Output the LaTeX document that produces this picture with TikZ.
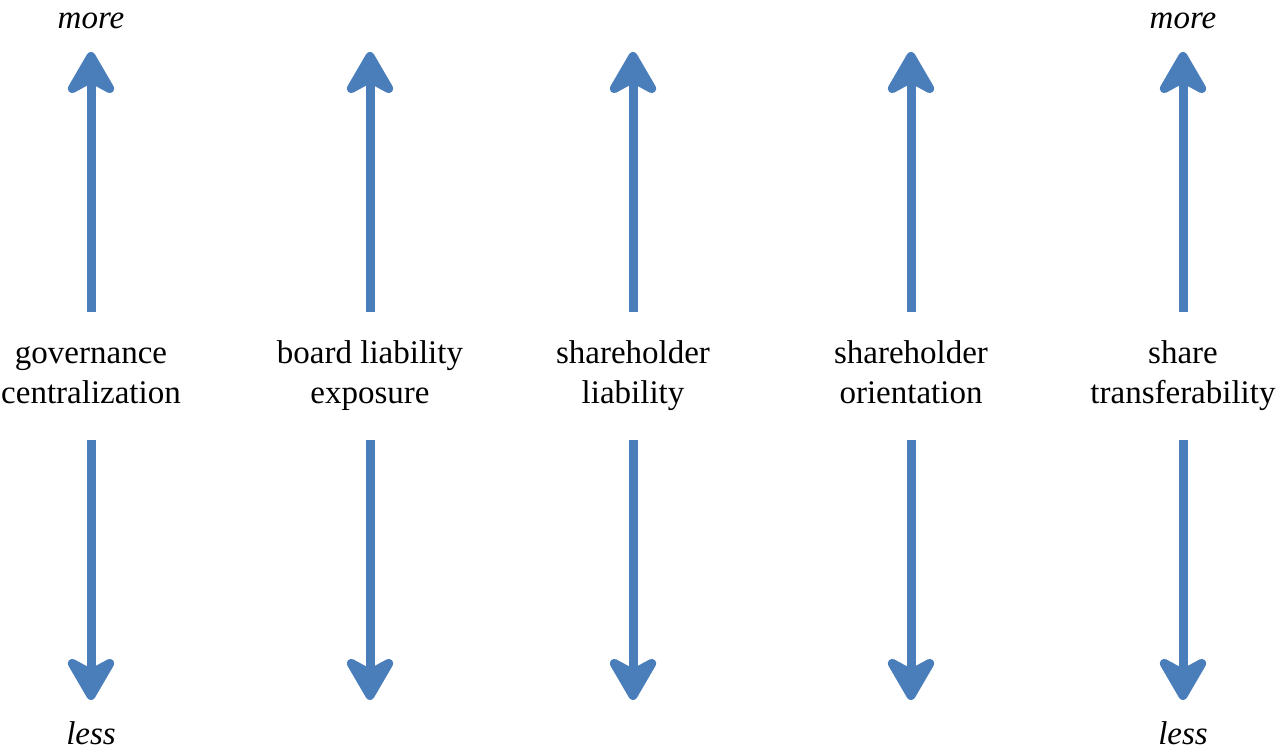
\documentclass[tikz,border=0pt]{standalone}
\usepackage{xcolor}
\usepackage{fontspec}
\setmainfont{Liberation Serif}
\usetikzlibrary{arrows.meta,positioning}

\definecolor{axisblue}{RGB}{74,126,187}

\begin{document}
\begin{tikzpicture}[x=0.5pt, y=0.5pt,
    dim/.style={align=center, minimum height=64pt, inner sep=0pt, font=\fontsize{16.5}{20}\selectfont},
    ends/.style={inner sep=0pt, font=\fontsize{16.5}{20}\selectfont\itshape},
    axis/.style={draw=axisblue, line width=4.5pt, -{Stealth[length=26pt, width=30pt, inset=8pt, round]}}]
    \useasboundingbox (0,0) rectangle (1276,754);

    \node (gov) [dim] at (91,378) {governance\strut\\centralization\strut};
    \node (board) [dim] at (370,378) {board liability\strut\\exposure\strut};
    \node (shliab) [dim] at (633,378) {shareholder\strut\\liability\strut};
    \node (shorient) [dim] at (911,378) {shareholder\strut\\orientation\strut};
    \node (transfer) [dim] at (1183,378) {share\strut\\transferability\strut};

    \coordinate (govtop) at (91,702);
    \coordinate (govbot) at (91,54);
    \coordinate (boardtop) at (370,702);
    \coordinate (boardbot) at (370,54);
    \coordinate (shliabtop) at (633,702);
    \coordinate (shliabbot) at (633,54);
    \coordinate (shorienttop) at (911,702);
    \coordinate (shorientbot) at (911,54);
    \coordinate (transfertop) at (1183,702);
    \coordinate (transferbot) at (1183,54);

    \node (moreleft) [ends] at (91,733) {more};
    \node (lessleft) [ends] at (91,21) {less};
    \node (moreright) [ends] at (1183,733) {more};
    \node (lessright) [ends] at (1183,21) {less};

    \foreach \n in {gov,board,shliab,shorient,transfer} {
        \draw [axis] (\n.north) -- (\n top);
        \draw [axis] (\n.south) -- (\n bot);
    }
\end{tikzpicture}
\end{document}
